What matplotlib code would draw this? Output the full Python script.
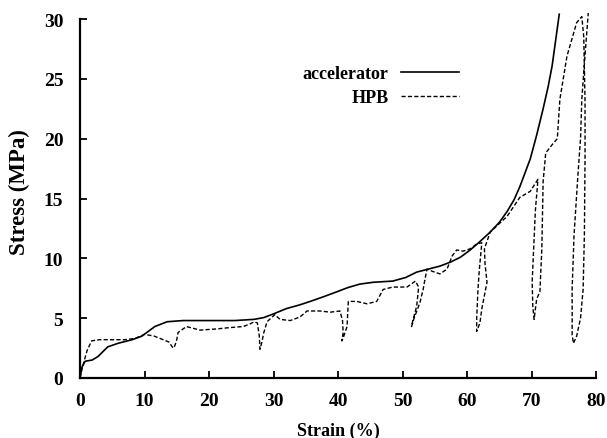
import matplotlib
matplotlib.use("Agg")
import matplotlib.pyplot as plt

plt.rcParams["font.family"] = ["Liberation Serif", "DejaVu Serif"]

# accelerator-cured sample: smooth loading curve
acc_strain = [0, 0.3, 0.8, 1.9, 2.8, 4.3, 5.9, 8.1, 9.6, 11.6, 13.5, 16, 20, 24, 27,
              28.5, 30.2, 32, 34, 35.7, 37.8, 39.8, 41.5, 43.4, 45.5, 48.5, 50.5,
              52.2, 54, 55.8, 57.5, 59, 60.5, 62, 63.6, 65, 66.2, 67.3, 68.2, 69.8,
              70.8, 71.8, 72.6, 73.2, 74.3]
acc_stress = [0, 0.9, 1.4, 1.5, 1.8, 2.6, 2.9, 3.2, 3.5, 4.3, 4.7, 4.8, 4.8, 4.8, 4.9,
              5.05, 5.4, 5.8, 6.1, 6.4, 6.8, 7.2, 7.55, 7.85, 8.0, 8.1, 8.4,
              8.85, 9.1, 9.35, 9.7, 10.1, 10.7, 11.4, 12.2, 13.0, 13.9, 14.9, 16.0,
              18.3, 20.3, 22.5, 24.4, 26.1, 30.4]

# HPB sample: loading with unload/reload loops
hpb_strain = [0, 0.3, 1.1, 1.8, 3, 5, 7, 8.5, 10, 11.5, 12.9, 13.8, 14.3, 14.5, 14.7,
              15.0, 15.2, 16.5, 18.6, 21.2, 23, 25.3, 26.3, 27.0, 27.5, 27.8, 27.9,
              28.2, 28.5, 29, 30.2, 31, 32.6, 34.1, 35.2, 37.2, 38.8, 40.3, 40.7,
              40.8, 40.6, 40.9, 41.4, 41.6, 42.9, 44.5, 46, 47, 48.5, 50.7, 52,
              52.5, 52.2, 51.6, 51.4, 51.8, 52.7, 53.2, 53.5, 53.8, 54.7, 55.8,
              56.9, 57.7, 58.4, 59.4, 60.5, 61.5, 62.3, 61.9, 61.7, 61.5, 61.5,
              62.0, 62.3, 63.1, 62.8, 62.7, 63.6, 66.2, 68.2, 69.8, 71.0, 70.6,
              70.1, 70.2, 70.4, 70.8, 71.3, 71.6, 71.8, 72.2, 73.2, 74.0, 74.4,
              75.5, 77.0, 77.8, 78.1, 78.3, 78.3, 78.2, 78.0, 77.6, 77.0, 76.5,
              76.3, 76.3, 76.6, 77.2, 77.6, 77.8, 78.3, 78.8]
hpb_stress = [0, 0.75, 2.3, 3.1, 3.2, 3.2, 3.2, 3.3, 3.65, 3.5, 3.2, 3.0, 2.6, 2.5, 2.7,
              3.2, 3.8, 4.3, 4.0, 4.1, 4.2, 4.3, 4.5, 4.7, 4.6, 3.5, 2.4,
              3.0, 3.8, 4.7, 5.3, 4.9, 4.8, 5.1, 5.6, 5.6, 5.5, 5.6, 4.8,
              3.8, 3.1, 3.5, 4.3, 6.4, 6.4, 6.2, 6.4, 7.4, 7.6, 7.6, 8.1,
              7.6, 6.0, 4.8, 4.3, 5.0, 6.3, 7.4, 8.3, 9.1, 8.9, 8.7,
              9.1, 10.2, 10.7, 10.6, 10.8, 11.2, 11.3, 9.0, 7.4, 5.0, 3.9,
              4.6, 5.8, 8.0, 9.5, 10.8, 12.2, 13.5, 15.1, 15.6, 16.6, 14.0,
              8.0, 6.0, 4.9, 6.6, 7.2, 10.8, 16.4, 18.8, 19.5, 20.0, 23.3,
              26.9, 29.7, 30.2, 28.5, 23.0, 18.5, 12.0, 7.4, 5.0, 3.5, 2.9,
              3.6, 7.5, 12.0, 17.0, 20.0, 23.3, 27.0, 30.5]

x_ticks = [0, 10, 20, 30, 40, 50, 60, 70, 80]
y_ticks = [0, 5, 10, 15, 20, 25, 30]

fig = plt.figure(figsize=(6.07, 4.39), dpi=100)
ax = fig.add_axes([0.1318, 0.1367, 0.8501, 0.8177])

# curves run a hair past the 30 MPa top, so no clipping
ax.plot(acc_strain, acc_stress, color="black", lw=1.2, label="accelerator",
        clip_on=False)
ax.plot(hpb_strain, hpb_stress, color="black", lw=1.0,
        linestyle=(0, (3, 1.6)), label="HPB", clip_on=False)

ax.set_xlim(0, 80)
ax.set_ylim(0, 30)
ax.set_xticks(x_ticks)
ax.set_yticks(y_ticks)
ax.tick_params(direction="in", length=5, width=1.3, labelsize=14)
ax.tick_params(axis="x", pad=10)
ax.tick_params(axis="y", pad=12)
for lbl in ax.get_xticklabels() + ax.get_yticklabels():
    lbl.set_fontweight("bold")
for side in ("top", "right"):
    ax.spines[side].set_visible(False)
for side in ("left", "bottom"):
    ax.spines[side].set_linewidth(1.6)

ax.set_xlabel("Strain (%)", fontsize=13, fontweight="bold", labelpad=9)
ax.set_ylabel("Stress (MPa)", fontsize=16.5, fontweight="bold", labelpad=8)
ax.yaxis.set_label_coords(-0.096, 0.52)

leg = ax.legend(loc="upper left", bbox_to_anchor=(0.40, 0.917), frameon=False,
                markerfirst=False, fontsize=13, handlelength=3.2,
                handletextpad=0.7, labelspacing=0.38, alignment="right",
                borderpad=0.4)
for t in leg.get_texts():
    t.set_ha("right")
    t.set_fontweight("bold")

fig.savefig("out.png", dpi=100)
